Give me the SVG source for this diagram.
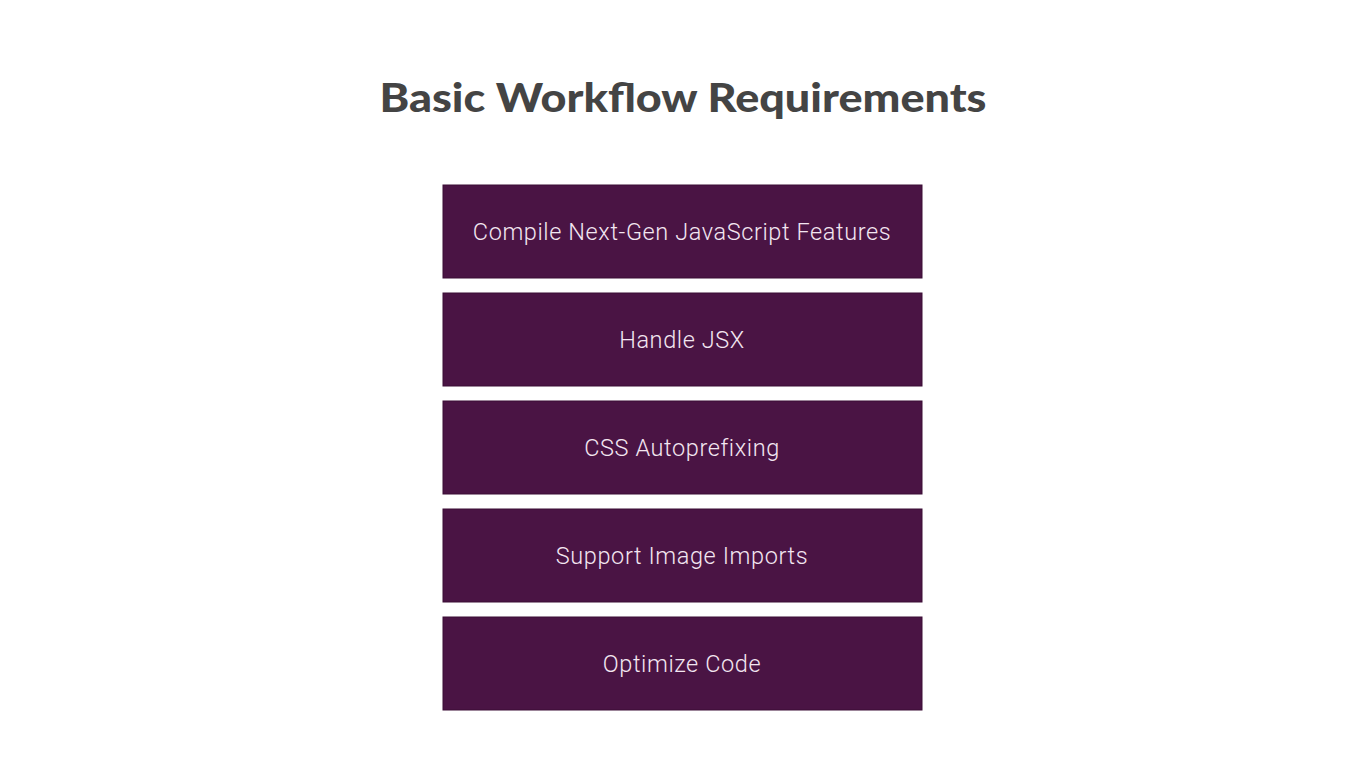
<svg xmlns="http://www.w3.org/2000/svg" width="1366" height="768" viewBox="0 0 1366 768">
<style>
.box{fill:#4a1444;stroke:#3a0d35;stroke-width:1}
.lbl{font-family:Roboto,"Liberation Sans",sans-serif;font-weight:300;font-size:23.5px;fill:#f3e6f1;text-anchor:middle;letter-spacing:0.6px}
.title{font-family:Lato,"Liberation Sans",sans-serif;font-weight:900;font-size:40px;fill:#444444;text-anchor:middle}
</style>
<rect width="1366" height="768" fill="#ffffff"/>
<text class="title" x="683" y="112" textLength="607" lengthAdjust="spacingAndGlyphs">Basic Workflow Requirements</text>
<g id="n1"><rect class="box" x="443" y="185" width="479" height="93"/><text class="lbl" x="682" y="240">Compile Next-Gen JavaScript Features</text></g>
<g id="n2"><rect class="box" x="443" y="293" width="479" height="93"/><text class="lbl" x="682" y="348">Handle JSX</text></g>
<g id="n3"><rect class="box" x="443" y="401" width="479" height="93"/><text class="lbl" x="682" y="456">CSS Autoprefixing</text></g>
<g id="n4"><rect class="box" x="443" y="509" width="479" height="93"/><text class="lbl" x="682" y="564">Support Image Imports</text></g>
<g id="n5"><rect class="box" x="443" y="617" width="479" height="93"/><text class="lbl" x="682" y="672">Optimize Code</text></g>
<g id="connectors"/>
</svg>
